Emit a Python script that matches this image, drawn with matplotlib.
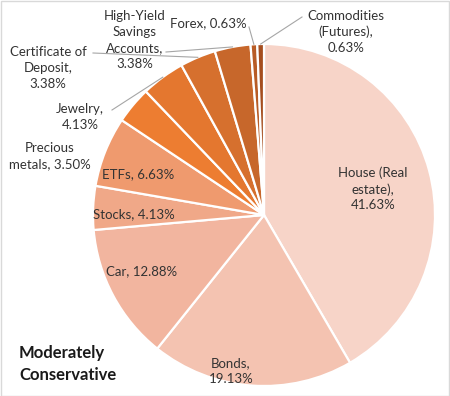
import numpy as np
import matplotlib
matplotlib.use("Agg")
import matplotlib.pyplot as plt
from matplotlib.patches import Rectangle

# data, clockwise from 12 o'clock
names = ["House (Real\nestate)", "Bonds", "Car", "Stocks", "ETFs",
         "Precious\nmetals", "Jewelry", "Certificate of\nDeposit",
         "High-Yield\nSavings\nAccounts", "Forex", "Commodities\n(Futures)"]
values = [41.63, 19.13, 12.88, 4.13, 6.63, 3.50, 4.13, 3.38, 3.38, 0.63, 0.63]
seps = [",\n", ",\n", ", ", ", ", ", ", ", ", ",\n", ",\n", ",\n", ", ", ",\n"]
colors = ["#F7D4C8", "#F4C3B1", "#F2B59F", "#F0A888", "#EF9A6E",
          "#ED7D31", "#E4772F", "#D6702E", "#C7672B", "#B85C26", "#A54E1F"]
title = "Moderately\nConservative"

# layout in pixels (y measured from top)
W, H = 450, 396
cx, cy, r = 264, 215, 171
label_pos = [(373, 189), (231, 371), (142, 271), (134, 214), (138, 174),
             (50, 156), (80, 117), (48, 68), (135, 40), (208, 23), (346, 32)]
leader_from = {6: (112, 110), 7: (93, 53), 8: (166, 52), 9: (249, 27), 10: (302, 17)}

plt.rcParams['font.family'] = ['Lato', 'DejaVu Sans']

fig = plt.figure(figsize=(W / 100, H / 100), dpi=100)
ax = fig.add_axes([0, 0, 1, 1])

wedges, _ = ax.pie(values, colors=colors, startangle=90, counterclock=False,
                   center=(cx, H - cy), radius=r, frame=True,
                   wedgeprops=dict(edgecolor='white', linewidth=1.6))
ax.set_xlim(0, W)
ax.set_ylim(0, H)
ax.set_aspect('auto')
ax.axis('off')

for i, (nm, v, sp) in enumerate(zip(names, values, seps)):
    x, y = label_pos[i]
    ax.text(x, H - y, f"{nm}{sp}{v:.2f}%", ha='center', va='center',
            fontsize=9.5, color='#333333', linespacing=1.38)
    if i in leader_from:
        w = wedges[i]
        mid = np.deg2rad((w.theta1 + w.theta2) / 2)
        ex, ey = cx + r * np.cos(mid), (H - cy) + r * np.sin(mid)
        sx, sy = leader_from[i]
        ax.plot([sx, ex], [H - sy, ey], color='#A6A6A6', lw=0.8)

ax.text(19, H - 364, title, ha='left', va='center', fontsize=12,
        fontweight='bold', color='#1a1a1a', linespacing=1.5)

fig.patches.append(Rectangle((0.5, 0.5), W - 1.5, H - 1.5, transform=None,
                             fill=False, edgecolor='#D9D9D9', lw=1))

fig.savefig("out.png", dpi=100)
